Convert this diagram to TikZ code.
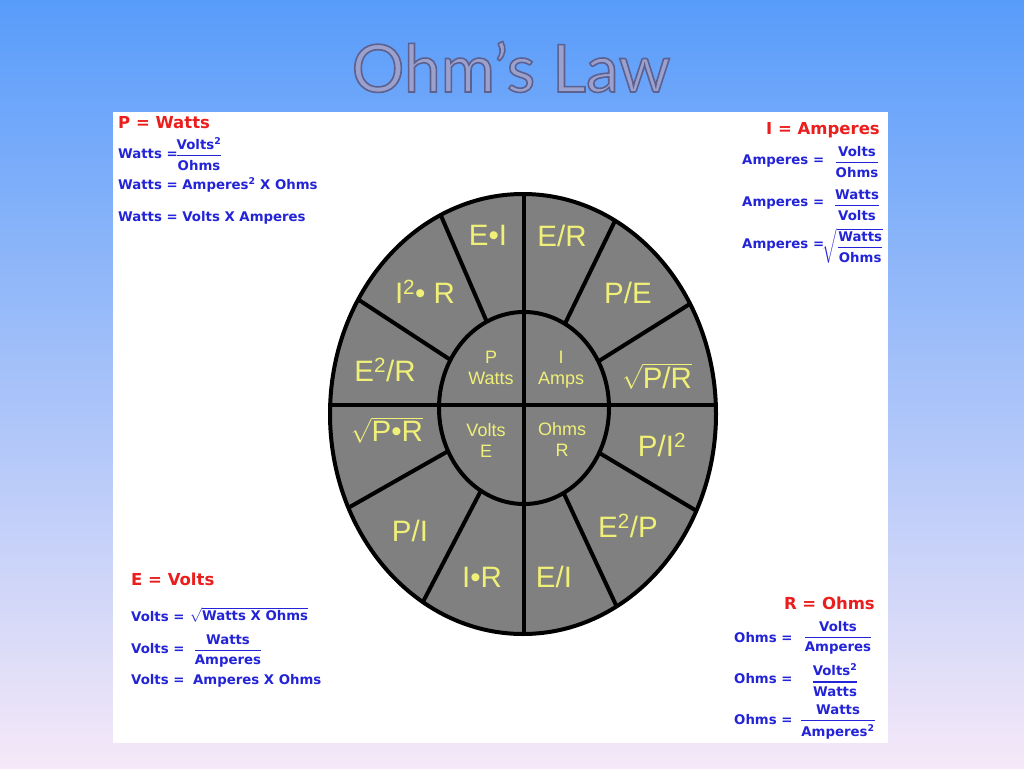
\documentclass[tikz,border=0pt]{standalone}
\usepackage{fontspec}
\usepackage{amsmath}
\setmainfont{Liberation Sans}
\newfontfamily\vfont{DejaVu Sans}
\newfontfamily\tfont{Lato}
\usetikzlibrary{calc}
\definecolor{bgtop}{RGB}{88,156,250}
\definecolor{bgmid}{RGB}{140,192,248}
\definecolor{bgbot}{RGB}{245,232,248}
\definecolor{wheelgray}{RGB}{128,128,128}
\definecolor{ylw}{RGB}{240,240,120}
\definecolor{blu}{RGB}{35,35,215}
\definecolor{rd}{RGB}{235,30,30}
\definecolor{ttl}{RGB}{156,160,204}
\newcommand{\outlined}[1]{\special{pdf:literal q 2 Tr 1.6 w 0.36 0.38 0.56 RG}#1\special{pdf:literal Q}}
\newcommand{\myfr}[2]{$\genfrac{}{}{1.3pt}{0}{\text{#1}}{\text{#2}}$}
\newcommand{\myrt}[1]{$\sqrt{\text{#1}}$}
\tikzset{
  seg/.style={text=ylw, font=\fontsize{29.5}{30}\selectfont, inner sep=0pt},
  core/.style={text=ylw, font=\fontsize{18}{21}\selectfont, inner sep=0pt, align=center},
  hd/.style={text=rd, font=\vfont\bfseries\fontsize{16.5}{18}\selectfont, inner sep=0pt},
  fm/.style={text=blu, font=\vfont\bfseries\fontsize{13.3}{14}\selectfont, inner sep=0pt},
  spoke/.style={line width=4pt, black},
}
\begin{document}
\begin{tikzpicture}[x=1pt,y=-1pt]
\useasboundingbox (0,0) rectangle (1024,768);
\shade[top color=bgtop, middle color=bgmid, bottom color=bgbot] (0,0) rectangle (1024,768);
% title
\node[text=ttl, font=\tfont\fontsize{66}{66}\selectfont] (title) at (511,67) {\outlined{Ohm’s Law}};
% white panel
\fill[white] (113,112) rectangle (888,743);
% wheel
\fill[wheelgray] (523,414) ellipse [x radius=193, y radius=220];
\begin{scope}
\clip (523,414) ellipse [x radius=193, y radius=220];
\coordinate (c) at (524,408);
\foreach \ox/\oy in {442/218, 612/227, 362/302, 685/307, 348/508, 695/510, 425/598, 615/603}{
  \draw[spoke] (c) -- ($(c)!1.15!(\ox,\oy)$);
}
\end{scope}
\draw[line width=4pt, fill=wheelgray] (524,408) ellipse [x radius=85, y radius=96];
\draw[spoke] (524,195) -- (524,634);
\draw[spoke] (331,405) -- (716,405);
\draw[line width=4pt] (523,414) ellipse [x radius=193, y radius=220];
% segment labels
\node[seg] (ei) at (488,235) {E•I};
\node[seg] (er) at (562,236) {E/R};
\node[seg] (i2r) at (425,292) {I\textsuperscript{2}• R};
\node[seg] (pe) at (628,293) {P/E};
\node[seg] (e2r) at (385,370) {E\textsuperscript{2}/R};
\node[seg] (sqpr) at (657,376) {\myrt{P/R}};
\node[seg] (sqpxr) at (387,430) {\myrt{P•R}};
\node[seg] (pi2) at (662,445) {P/I\textsuperscript{2}};
\node[seg] (pi) at (410,531) {P/I};
\node[seg] (e2p) at (628,526) {E\textsuperscript{2}/P};
\node[seg] (ir) at (482,577) {I•R};
\node[seg] (eiv) at (554,577) {E/I};
% core labels
\node[core] (pw) at (491,368) {P\\Watts};
\node[core] (ia) at (561,370) {I\\Amps};
\node[core] (ve) at (486,440) {Volts\\E};
\node[core] (or) at (562,439) {Ohms\\R};
% top left
\node[hd, anchor=west] (hp) at (118,123) {P = Watts};
\node[fm, anchor=west] (w1) at (118,154) {Watts =};
\node[fm] (w1f) at (199,154) {\myfr{Volts\textsuperscript{2}}{Ohms}};
\node[fm, anchor=west] (w2) at (118,185) {Watts = Amperes\textsuperscript{2} X Ohms};
\node[fm, anchor=west] (w3) at (118,218) {Watts = Volts X Amperes};
% top right
\node[hd, anchor=east] (hi) at (880,130) {I = Amperes};
\node[fm, anchor=west] (a1) at (742,161) {Amperes =};
\node[fm] (a1f) at (857,162) {\myfr{Volts}{Ohms}};
\node[fm, anchor=west] (a2) at (742,203) {Amperes =};
\node[fm] (a2f) at (857,205) {\myfr{Watts}{Volts}};
\node[fm, anchor=west] (a3) at (742,245) {Amperes =};
\node[fm] (a3f) at (853,246) {\myrt{\myfr{Watts}{Ohms}}};
% bottom left
\node[hd, anchor=west] (he) at (131,579) {E = Volts};
\node[fm, anchor=west] (v1) at (131,617) {Volts =};
\node[fm, anchor=west] (v1f) at (190,615) {\myrt{Watts X Ohms}};
\node[fm, anchor=west] (v2) at (131,649) {Volts =};
\node[fm] (v2f) at (228,651) {\myfr{Watts}{Amperes}};
\node[fm, anchor=west] (v3) at (131,681) {Volts =\hspace{4pt} Amperes X Ohms};
% bottom right
\node[hd, anchor=east] (hr) at (875,603) {R = Ohms};
\node[fm, anchor=west] (o1) at (734,638) {Ohms =};
\node[fm] (o1f) at (838,638) {\myfr{Volts}{Amperes}};
\node[fm, anchor=west] (o2) at (734,679) {Ohms =};
\node[fm] (o2f) at (835,680) {\myfr{Volts\textsuperscript{2}}{Watts}};
\node[fm, anchor=west] (o3) at (734,720) {Ohms =};
\node[fm] (o3f) at (838,722) {\myfr{Watts}{Amperes\textsuperscript{2}}};
\end{tikzpicture}
\end{document}
